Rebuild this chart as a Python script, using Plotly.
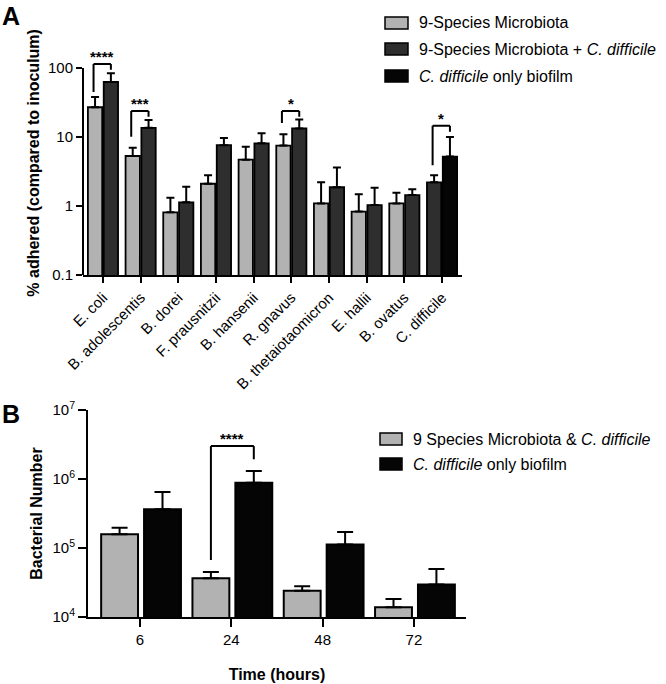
import numpy as np
import plotly.graph_objects as go

# ---------------- Panel A data ----------------
cats_A = ['E. coli', 'B. adolescentis', 'B. dorei', 'F. prausnitzii', 'B. hansenii',
          'R. gnavus', 'B. thetaiotaomicron', 'E. hallii', 'B. ovatus', 'C. difficile']
micro9 = [27, 5.3, 0.81, 2.1, 4.7, 7.5, 1.09, 0.83, 1.09]
micro9_upper = [38, 7.0, 1.32, 2.8, 7.2, 11, 2.2, 1.48, 1.56]
micro9_cd = [62.7, 13.6, 1.13, 7.6, 8.1, 13.3, 1.87, 1.03, 1.44, 2.2]
micro9_cd_upper = [84, 17.6, 1.9, 9.7, 11.3, 18, 3.6, 1.84, 1.75, 2.8]
cd_only_A = [5.2]
cd_only_A_upper = [10]
series_A = ['9-Species Microbiota', '9-Species Microbiota + <i>C. difficile</i>',
            '<i>C. difficile</i> only biofilm']

sigA_cat = ['E. coli', 'B. adolescentis', 'R. gnavus', 'C. difficile']
sigA_top = [114, 23.8, 23.8, 14.6]
sigA_left = [45, 10.1, 16, 3.9]
sigA_right = [94, 19.7, 19.7, 11.9]
sigA_label = ['****', '***', '*', '*']

# ---------------- Panel B data ----------------
times = ['6', '24', '48', '72']
mix = [1.58e5, 3.63e4, 2.41e4, 1.38e4]
mix_upper = [1.97e5, 4.5e4, 2.78e4, 1.82e4]
cd_only_B = [3.64e5, 8.8e5, 1.12e5, 2.97e4]
cd_only_B_upper = [6.5e5, 1.31e6, 1.71e5, 4.96e4]
series_B = ['9 Species Microbiota &amp; <i>C. difficile</i>', '<i>C. difficile</i> only biofilm']

sigB_cat = ['24']
sigB_top = [3.0e6]
sigB_left = [6.7e4]
sigB_right = [1.93e6]
sigB_label = ['****']

# ---------------- styling ----------------
FONT = 'Liberation Sans, Arial, Helvetica, sans-serif'
LIGHT = '#b2b2b2'
DARK = '#2e2e2e'
BLACK = '#050505'
W, H = 666, 684

wA, offL_A, offR_A = 0.38, -0.40, 0.02
wB, offL_B, offR_B = 0.404, -0.426, 0.044


def err(vals, uppers):
    return [u - v for v, u in zip(vals, uppers)]


fig = go.Figure()

# Panel A bars
fig.add_trace(go.Bar(
    x=cats_A[:9], y=micro9, width=wA, offset=offL_A, name=series_A[0],
    marker=dict(color=LIGHT, line=dict(color='black', width=1.8)),
    error_y=dict(type='data', array=err(micro9, micro9_upper), arrayminus=[0] * 9,
                 symmetric=False, color='black', thickness=2, width=4),
    xaxis='x', yaxis='y', showlegend=False))
fig.add_trace(go.Bar(
    x=cats_A, y=micro9_cd, width=wA,
    offset=[offR_A] * 9 + [offL_A], name=series_A[1],
    marker=dict(color=DARK, line=dict(color='black', width=1.8)),
    error_y=dict(type='data', array=err(micro9_cd, micro9_cd_upper), arrayminus=[0] * 10,
                 symmetric=False, color='black', thickness=2, width=4),
    xaxis='x', yaxis='y', showlegend=False))
fig.add_trace(go.Bar(
    x=cats_A[9:], y=cd_only_A, width=wA, offset=offR_A, name=series_A[2],
    marker=dict(color=BLACK, line=dict(color='black', width=1.8)),
    error_y=dict(type='data', array=err(cd_only_A, cd_only_A_upper), arrayminus=[0],
                 symmetric=False, color='black', thickness=2, width=4),
    xaxis='x', yaxis='y', showlegend=False))

# Panel B bars
fig.add_trace(go.Bar(
    x=times, y=mix, width=wB, offset=offL_B, name=series_B[0],
    marker=dict(color=LIGHT, line=dict(color='black', width=2)),
    error_y=dict(type='data', array=err(mix, mix_upper), arrayminus=[0] * 4,
                 symmetric=False, color='black', thickness=2, width=8),
    xaxis='x2', yaxis='y2', showlegend=False))
fig.add_trace(go.Bar(
    x=times, y=cd_only_B, width=wB, offset=offR_B, name=series_B[1],
    marker=dict(color=BLACK, line=dict(color='black', width=2)),
    error_y=dict(type='data', array=err(cd_only_B, cd_only_B_upper), arrayminus=[0] * 4,
                 symmetric=False, color='black', thickness=2, width=8),
    xaxis='x2', yaxis='y2', showlegend=False))

shapes = []
annotations = []


def bracket(xref, yref, xc, left, right, top, dxl, dxr, label, size):
    xl, xr = xc + dxl, xc + dxr
    line = dict(color='black', width=2)
    shapes.append(dict(type='line', xref=xref, yref=yref, x0=xl, x1=xl, y0=left, y1=top, line=line))
    shapes.append(dict(type='line', xref=xref, yref=yref, x0=xl, x1=xr, y0=top, y1=top, line=line))
    shapes.append(dict(type='line', xref=xref, yref=yref, x0=xr, x1=xr, y0=right, y1=top, line=line))
    annotations.append(dict(xref=xref, yref=yref, x=(xl + xr) / 2, y=np.log10(top),
                            text='<b>' + label + '</b>',
                            showarrow=False, yanchor='bottom', yshift=-3,
                            font=dict(size=size, color='black', family=FONT)))


for c, t, l, r, lab in zip(sigA_cat, sigA_top, sigA_left, sigA_right, sigA_label):
    i = cats_A.index(c)
    bracket('x', 'y', i, l, r, t, offL_A + wA / 2 - 0.04, offR_A + wA / 2, lab, 15)

for c, t, l, r, lab in zip(sigB_cat, sigB_top, sigB_left, sigB_right, sigB_label):
    i = times.index(c)
    bracket('x2', 'y2', i, l, r, t, offL_B + wB / 2, offR_B + wB / 2, lab, 15)

# Panel A y axis line (only from 0.1 to 100)
shapes.append(dict(type='line', xref='x domain', yref='y', x0=0, x1=0, y0=0.1, y1=100,
                   line=dict(color='black', width=2)))


# Custom legends (rectangular swatches)
def legend(x0, x1, ys, colors, names):
    for yy, col, nm in zip(ys, colors, names):
        shapes.append(dict(type='rect', xref='paper', yref='paper',
                           x0=x0 / W, x1=x1 / W, y0=1 - (yy + 6) / H, y1=1 - (yy - 6) / H,
                           fillcolor=col, line=dict(color='black', width=1.5)))
        annotations.append(dict(xref='paper', yref='paper', x=(x1 + 9) / W, y=1 - yy / H,
                                xanchor='left', yanchor='middle', text=nm, showarrow=False,
                                font=dict(size=16, color='black', family=FONT)))


legend(385, 408, [23, 49, 76], [LIGHT, DARK, BLACK], series_A)
legend(380, 402, [439, 464], [LIGHT, BLACK], series_B)

# Panel labels
annotations.append(dict(xref='paper', yref='paper', x=0, y=1.0, xanchor='left', yanchor='top',
                        text='<b>A</b>', showarrow=False, font=dict(size=25, color='black', family=FONT)))
annotations.append(dict(xref='paper', yref='paper', x=0, y=1 - 398 / H, xanchor='left', yanchor='top',
                        text='<b>B</b>', showarrow=False, font=dict(size=25, color='black', family=FONT)))

tickfont = dict(size=15, color='black', family=FONT)
titlefont = dict(size=16, color='black', family=FONT)

fig.update_layout(
    width=W, height=H, margin=dict(l=0, r=0, t=0, b=0, autoexpand=False),
    paper_bgcolor='white', plot_bgcolor='white',
    font=dict(family=FONT, color='black'),
    barmode='overlay', bargap=0, hovermode=False,
    shapes=shapes, annotations=annotations,
    xaxis=dict(domain=[83 / W, 462 / W], anchor='y', type='category', categoryorder='array',
               categoryarray=cats_A, range=[-0.53, 9.53], showline=True, linecolor='black',
               linewidth=2, ticks='outside', ticklen=6, tickwidth=2, tickcolor='black',
               tickangle=-45, tickfont=tickfont, showgrid=False, zeroline=False, automargin=False),
    yaxis=dict(domain=[1 - 275 / H, 1 - 50.75 / H], anchor='x', type='log', range=[-1, 2.25],
               tickvals=[0.1, 1, 10, 100], ticktext=['0.1', '1', '10', '100'],
               showline=False, ticks='outside', ticklen=6, tickwidth=2, tickcolor='black',
               tickfont=tickfont, showgrid=False, zeroline=False, automargin=False,
               title=dict(text='<b>% adhered (compared to inoculum)</b>', font=titlefont, standoff=4)),
    xaxis2=dict(domain=[88 / W, 466 / W], anchor='y2', type='category', categoryorder='array',
                categoryarray=times, range=[-0.57, 3.57], showline=True, linecolor='black',
                linewidth=2, ticks='outside', ticklen=8, tickwidth=2, tickcolor='black',
                tickfont=tickfont, showgrid=False, zeroline=False, automargin=False,
                title=dict(text='<b>Time (hours)</b>', font=titlefont, standoff=22)),
    yaxis2=dict(domain=[1 - 617 / H, 1 - 410 / H], anchor='x2', type='log', range=[4, 7],
                tickvals=[1e4, 1e5, 1e6, 1e7],
                ticktext=['10<sup>4</sup>', '10<sup>5</sup>', '10<sup>6</sup>', '10<sup>7</sup>'],
                showline=True, linecolor='black', linewidth=2, ticks='outside', ticklen=8,
                tickwidth=2, tickcolor='black', tickfont=tickfont, showgrid=False, zeroline=False,
                automargin=False,
                title=dict(text='<b>Bacterial Number</b>', font=titlefont, standoff=6)),
)

# remove the browser's default 8px body margin so the figure fills the window exactly
fig.write_html('out.html', config={'displayModeBar': False, 'staticPlot': True},
               post_script="document.body.style.margin='0';document.body.style.overflow='hidden';")
